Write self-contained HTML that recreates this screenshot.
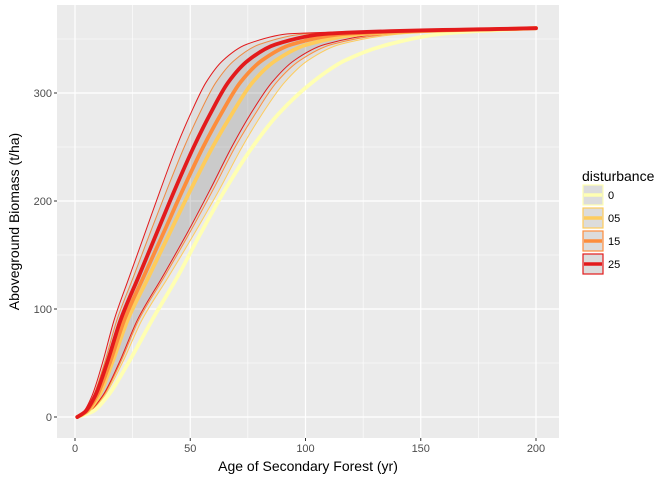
<!DOCTYPE html>
<html><head><meta charset="utf-8"><style>
body{margin:0;background:#fff;width:672px;height:480px;overflow:hidden}
svg text{font-family:"Liberation Sans",sans-serif}
</style></head><body>
<svg id="c" width="672" height="480" xmlns="http://www.w3.org/2000/svg"></svg>
<script>
const xTicks=[0,50,100,150,200];
const yTicks=[0,100,200,300];
const biomassLevels=[0,5,20,50,90,130,170,210,250,280,310,330,345,355,360];
const agesRedHi=[1,3.75,7.43,11.9,17.0,23.6,30.3,37.0,44.0,50.0,56.9,64.1,74.4,94.0,200];
const agesOrangeHi=[1,4.07,8.05,12.8,18.2,25.4,32.5,39.8,47.4,53.8,61.2,69.0,80.0,101.2,200];
const agesRed=[1,4.45,8.81,13.9,19.8,27.6,35.4,43.2,51.5,58.5,66.5,75,87,110,200];
const agesOrange=[1,4.83,9.57,15.1,21.4,29.8,38.3,46.7,55.6,63.2,71.8,81,94,118.8,200];
const agesLight=[1,5.30,10.5,16.1,22.9,32.0,41.0,50.1,59.7,67.9,77.1,87,100.9,127.6,200];
const agesRedLo=[1,6.11,12.1,19.1,27.1,38.0,48.6,58.5,68,76,85.5,95,108.5,135,200];
const agesOrangeLo=[1,6.24,12.4,19.6,27.7,38.8,49.6,59.8,69.5,78,87.5,97.5,111.5,139,200];
const agesLightLo=[1,6.53,12.9,20.5,29.1,40.6,51.8,62.5,72.5,81,91,101,115,143,200];
const agesYellow=[1,7.6,14.4,23.1,33.5,44.5,54.5,65,77,88,103,117,136,160,200];
const legendLabels=["0","05","15","25"];
const colors=["#FFFFB2","#FECC5C","#FD8D3C","#E31A1C"];

const NS="http://www.w3.org/2000/svg";
const svg=document.getElementById('c');
const P={l:57,r:559,t:5,b:438};
const xs=v=>75+(v-0)*(536-75)/200;
const ys=v=>417-v*(417-93)/300;
function el(t,a,p){const e=document.createElementNS(NS,t);for(const k in a)e.setAttribute(k,a[k]);(p||svg).appendChild(e);return e;}
function pts(ages){return ages.map((a,i)=>[xs(a),ys(biomassLevels[i])]);}
function curve(r,start){
  const n=r.length,dx=[],s=[],m=[];
  for(let i=0;i<n-1;i++){dx[i]=r[i+1][0]-r[i][0];s[i]=(r[i+1][1]-r[i][1])/dx[i];}
  m[0]=s[0];m[n-1]=s[n-2];
  for(let i=1;i<n-1;i++){m[i]=(s[i-1]*s[i]<=0)?0:3*(dx[i-1]+dx[i])/((2*dx[i]+dx[i-1])/s[i-1]+(dx[i]+2*dx[i-1])/s[i]);}
  let d=`${start}${r[0][0]},${r[0][1]}`;
  for(let i=0;i<n-1;i++){const h=dx[i]/3;
    d+=` C${r[i][0]+h},${r[i][1]+m[i]*h} ${r[i+1][0]-h},${r[i+1][1]-m[i+1]*h} ${r[i+1][0]},${r[i+1][1]}`;}
  return d;}
const smooth=p=>curve(p,'M');
const smoothRev=p=>' '+curve(p.slice().reverse(),'L');

const bg=el('rect',{x:P.l,y:P.t,width:P.r-P.l,height:P.b-P.t,fill:'#EBEBEB'});

for(let i=0;i<xTicks.length-1;i++){const m=(xTicks[i]+xTicks[i+1])/2;el('line',{x1:xs(m),x2:xs(m),y1:P.t,y2:P.b,stroke:'#fff','stroke-width':0.6});}
for(let i=0;i<yTicks.length;i++){const m=yTicks[i]+50;el('line',{x1:P.l,x2:P.r,y1:ys(m),y2:ys(m),stroke:'#fff','stroke-width':0.6});}
xTicks.forEach(v=>{const g=el('line',{x1:xs(v),x2:xs(v),y1:P.t,y2:P.b,stroke:'#fff','stroke-width':1.2});

el('line',{x1:xs(v),x2:xs(v),y1:P.b,y2:P.b+3,stroke:'#333'});
const t=el('text',{x:xs(v),y:P.b+14,'text-anchor':'middle','font-size':11,fill:'#4D4D4D'});t.textContent=v;
});
yTicks.forEach(v=>{const g=el('line',{x1:P.l,x2:P.r,y1:ys(v),y2:ys(v),stroke:'#fff','stroke-width':1.2});

el('line',{x1:P.l-3,x2:P.l,y1:ys(v),y2:ys(v),stroke:'#333'});
const t=el('text',{x:P.l-5,y:ys(v)+4,'text-anchor':'end','font-size':11,fill:'#4D4D4D'});t.textContent=v;
});

const ribbons=[[agesRed,agesLightLo,colors[1],'ribbon-05'],[agesOrangeHi,agesOrangeLo,colors[2],'ribbon-15'],[agesRedHi,agesRedLo,colors[3],'ribbon-25']];
ribbons.forEach(r=>{const hi=pts(r[0]),lo=pts(r[1]);
const d=smooth(hi)+smoothRev(lo)+' Z';
const f=el('path',{d:d,fill:'rgba(127,127,127,0.11)',stroke:'none'});

[hi,lo].forEach(p=>{const l=el('path',{d:smooth(p),fill:'none',stroke:r[2],'stroke-width':1});
});});
const centers=[[agesYellow,colors[0],'line-0'],[agesLight,colors[1],'line-05'],[agesOrange,colors[2],'line-15'],[agesRed,colors[3],'line-25']];
centers.forEach(c=>{const l=el('path',{d:smooth(pts(c[0])),fill:'none',stroke:c[1],'stroke-width':3.8,'stroke-linecap':'round'});
});

let t=el('text',{x:(P.l+P.r)/2,y:471,'text-anchor':'middle','font-size':14,fill:'#000'});t.textContent='Age of Secondary Forest (yr)';

t=el('text',{x:0,y:0,'text-anchor':'middle','font-size':14,fill:'#000',transform:`translate(19,${(P.t+P.b)/2}) rotate(-90)`});t.textContent='Aboveground Biomass (t/ha)';

t=el('text',{x:582,y:181,'font-size':14,fill:'#000'});t.textContent='disturbance';

legendLabels.forEach((lab,i)=>{const y=185+i*23;
const g=el('g',{});
el('rect',{x:583,y:y,width:20,height:20,fill:'#DCDCDC',stroke:colors[i],'stroke-width':1.2},g);
el('line',{x1:584,x2:602,y1:y+10,y2:y+10,stroke:colors[i],'stroke-width':3.5},g);
const tt=el('text',{x:608,y:y+14,'font-size':11,fill:'#000'},g);tt.textContent=lab;});
</script>
</body></html>
